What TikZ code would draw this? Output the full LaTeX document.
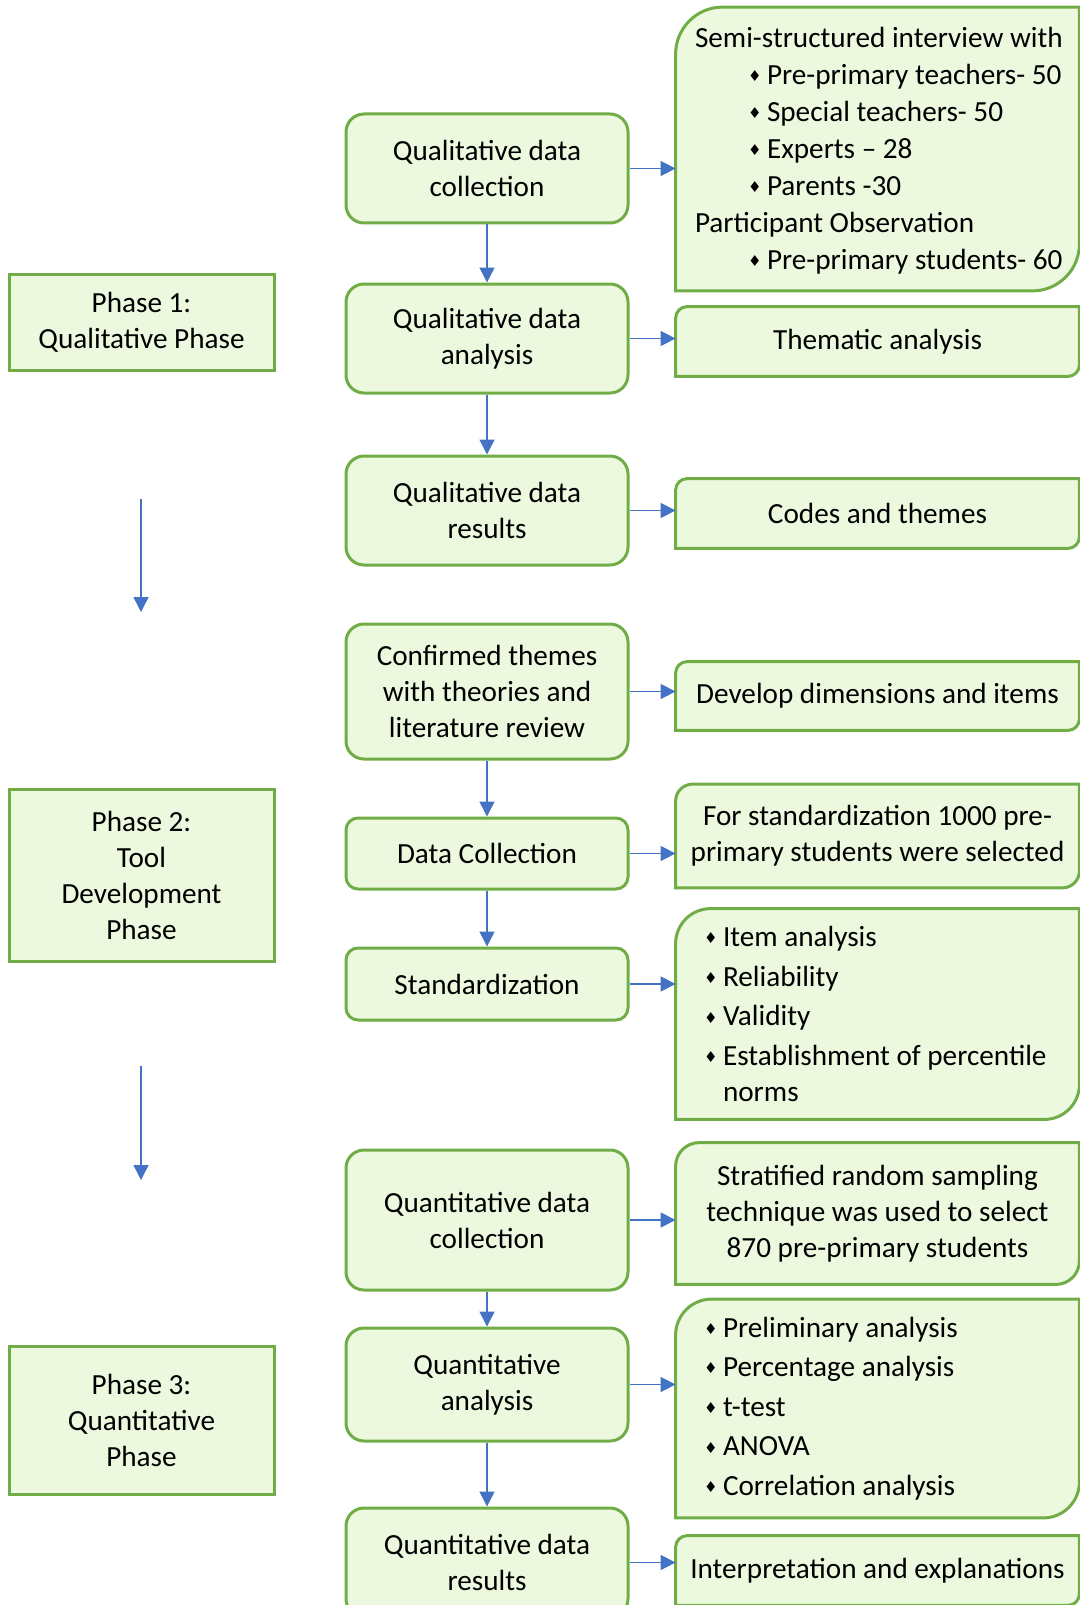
\documentclass[tikz,border=0pt]{standalone}
\usepackage{fontspec}
\setmainfont{Carlito}
\newfontfamily\symfont{DejaVu Sans}
\usetikzlibrary{arrows.meta}

\definecolor{boxfill}{RGB}{237,249,223}
\definecolor{boxline}{RGB}{112,173,71}
\definecolor{arrowblue}{RGB}{68,114,196}

\newcommand{\bul}{\makebox[9.5pt][l]{\raisebox{0.2ex}{\symfont\fontsize{7.5}{7.5}\selectfont ♦}}}
% right-hand boxes: only top left and bottom right corners are rounded
\newcommand{\diagbox}[2]{%
  \filldraw[rline] (#1.south west) -- ([yshift=-#2pt]#1.north west)
    arc[start angle=180, end angle=90, radius=#2pt] -- (#1.north east)
    -- ([yshift=#2pt]#1.south east)
    arc[start angle=0, end angle=-90, radius=#2pt] -- cycle;}

\tikzset{
  txt/.style={font=\fontsize{14.6}{18}\selectfont},
  midbox/.style={txt, draw=boxline, fill=boxfill, line width=1.5pt,
    rounded corners=9pt, minimum width=141pt, align=center, inner sep=0pt},
  phasebox/.style={txt, draw=boxline, fill=boxfill, line width=1.5pt,
    minimum width=132.5pt, align=center, inner sep=0pt},
  rbox/.style={minimum width=201.5pt, inner sep=0pt},
  rline/.style={draw=boxline, fill=boxfill, line width=1.5pt},
  rtext/.style={txt, inner sep=0pt},
  link/.style={draw=arrowblue, line width=0.75pt,
    -{Triangle[width=7.5pt,length=7.5pt]}},
}

\begin{document}
\begin{tikzpicture}[x=0.5pt, y=-0.5pt]
  \useasboundingbox (0,0) rectangle (1080,1605);

  % Phase boxes
  \node[phasebox, minimum height=48pt] (ph1) at (141.5,322) {Phase 1:\\Qualitative Phase};
  \node[phasebox, minimum height=86pt] (ph2) at (141.5,875) {Phase 2:\\Tool\\Development\\Phase};
  \node[phasebox, minimum height=74pt] (ph3) at (141.5,1420) {Phase 3:\\Quantitative\\Phase};
  \coordinate (p1a) at (141,499);
  \coordinate (p1b) at (141,612);
  \coordinate (p2a) at (141,1066);
  \coordinate (p2b) at (141,1180);
  \draw[link] (p1a) -- (p1b);
  \draw[link] (p2a) -- (p2b);

  % Middle column
  \node[midbox, minimum height=54.5pt] (q1) at (487,168.5) {Qualitative data\\collection};
  \node[midbox, minimum height=54.5pt] (q2) at (487,338.5) {Qualitative data\\analysis};
  \node[midbox, minimum height=54.5pt] (q3) at (487,510.5) {Qualitative data\\results};
  \node[midbox, minimum height=67.5pt] (conf) at (487,691.5) {Confirmed themes\\with theories and\\literature review};
  \node[midbox, minimum height=35.5pt, rounded corners=6pt] (dcol) at (487,853.5) {Data Collection};
  \node[midbox, minimum height=36pt, rounded corners=6pt] (stdz) at (487,984) {Standardization};
  \node[midbox, minimum height=70pt] (qdc) at (487,1220) {Quantitative data\\collection};
  \node[midbox, minimum height=56.5pt] (qan) at (487,1384.5) {Quantitative\\analysis};
  \node[midbox, minimum height=54.5pt] (qres) at (487,1562.5) {Quantitative data\\results};

  % Right column
  \node[rbox, minimum height=141.5pt] (r1) at (877.5,149) {};
  \diagbox{r1}{23.5}
  \node[rtext, anchor=west, align=left] (r1t) at ([xshift=9.5pt, yshift=-1pt]r1.west)
    {Semi-structured interview with\\[0.5pt]
     \hspace*{26.5pt}\bul Pre-primary teachers- 50\\[0.5pt]
     \hspace*{26.5pt}\bul Special teachers- 50\\[0.5pt]
     \hspace*{26.5pt}\bul Experts -- 28\\[0.5pt]
     \hspace*{26.5pt}\bul Parents -30\\[0.5pt]
     Participant Observation\\[0.5pt]
     \hspace*{26.5pt}\bul Pre-primary students- 60};

  \node[rbox, minimum height=34.5pt] (r2) at (877.5,341.5) {};
  \diagbox{r2}{5.75}
  \node[rtext] (r2t) at (r2) {Thematic analysis};

  \node[rbox, minimum height=34.5pt] (r3) at (877.5,513.5) {};
  \diagbox{r3}{5.75}
  \node[rtext] (r3t) at (r3) {Codes and themes};

  \node[rbox, minimum height=34pt] (r4) at (877.5,696) {};
  \diagbox{r4}{5.75}
  \node[rtext] (r4t) at (r4) {Develop dimensions and items};

  \node[rbox, minimum height=51.5pt] (r5) at (877.5,836) {};
  \diagbox{r5}{8.5}
  \node[rtext, align=center] (r5t) at (r5) {For standardization 1000 pre-\\primary students were selected};

  \node[rbox, minimum height=105pt] (r6) at (877.5,1014) {};
  \diagbox{r6}{17.5}
  \node[rtext, anchor=west, align=left] (r6t) at ([xshift=14pt]r6.west)
    {\bul Item analysis\\[1.8pt]
     \bul Reliability\\[1.8pt]
     \bul Validity\\[1.8pt]
     \bul Establishment of percentile\\
     \hspace*{9.5pt}norms};

  \node[rbox, minimum height=70.5pt] (r7) at (877.5,1213.5) {};
  \diagbox{r7}{11.75}
  \node[rtext, align=center] (r7t) at (r7) {Stratified random sampling\\technique was used to select\\870 pre-primary students};

  \node[rbox, minimum height=109pt] (r8) at (877.5,1408.5) {};
  \diagbox{r8}{18}
  \node[rtext, anchor=west, align=left] (r8t) at ([xshift=14pt]r8.west)
    {\bul Preliminary analysis\\[1.8pt]
     \bul Percentage analysis\\[1.8pt]
     \bul t-test\\[1.8pt]
     \bul ANOVA\\[1.8pt]
     \bul Correlation analysis};

  \node[rbox, minimum height=34.5pt] (r9) at (877.5,1570.5) {};
  \diagbox{r9}{5.75}
  \node[rtext] (r9t) at (r9) {Interpretation and explanations};

  % Down arrows
  \draw[link] (q1) -- (q2);
  \draw[link] (q2) -- (q3);
  \draw[link] (conf) -- (dcol);
  \draw[link] (dcol) -- (stdz);
  \draw[link] (qdc) -- (qan);
  \draw[link] (qan) -- (qres);

  % Arrows to the right
  \draw[link] (q1.east) -- (q1.east -| r1.west);
  \draw[link] (q2.east) -- (q2.east -| r2.west);
  \draw[link] (q3.east) -- (q3.east -| r3.west);
  \draw[link] (conf.east) -- (conf.east -| r4.west);
  \draw[link] (dcol.east) -- (dcol.east -| r5.west);
  \draw[link] (stdz.east) -- (stdz.east -| r6.west);
  \draw[link] (qdc.east) -- (qdc.east -| r7.west);
  \draw[link] (qan.east) -- (qan.east -| r8.west);
  \draw[link] (qres.east) -- (qres.east -| r9.west);
\end{tikzpicture}
\end{document}
